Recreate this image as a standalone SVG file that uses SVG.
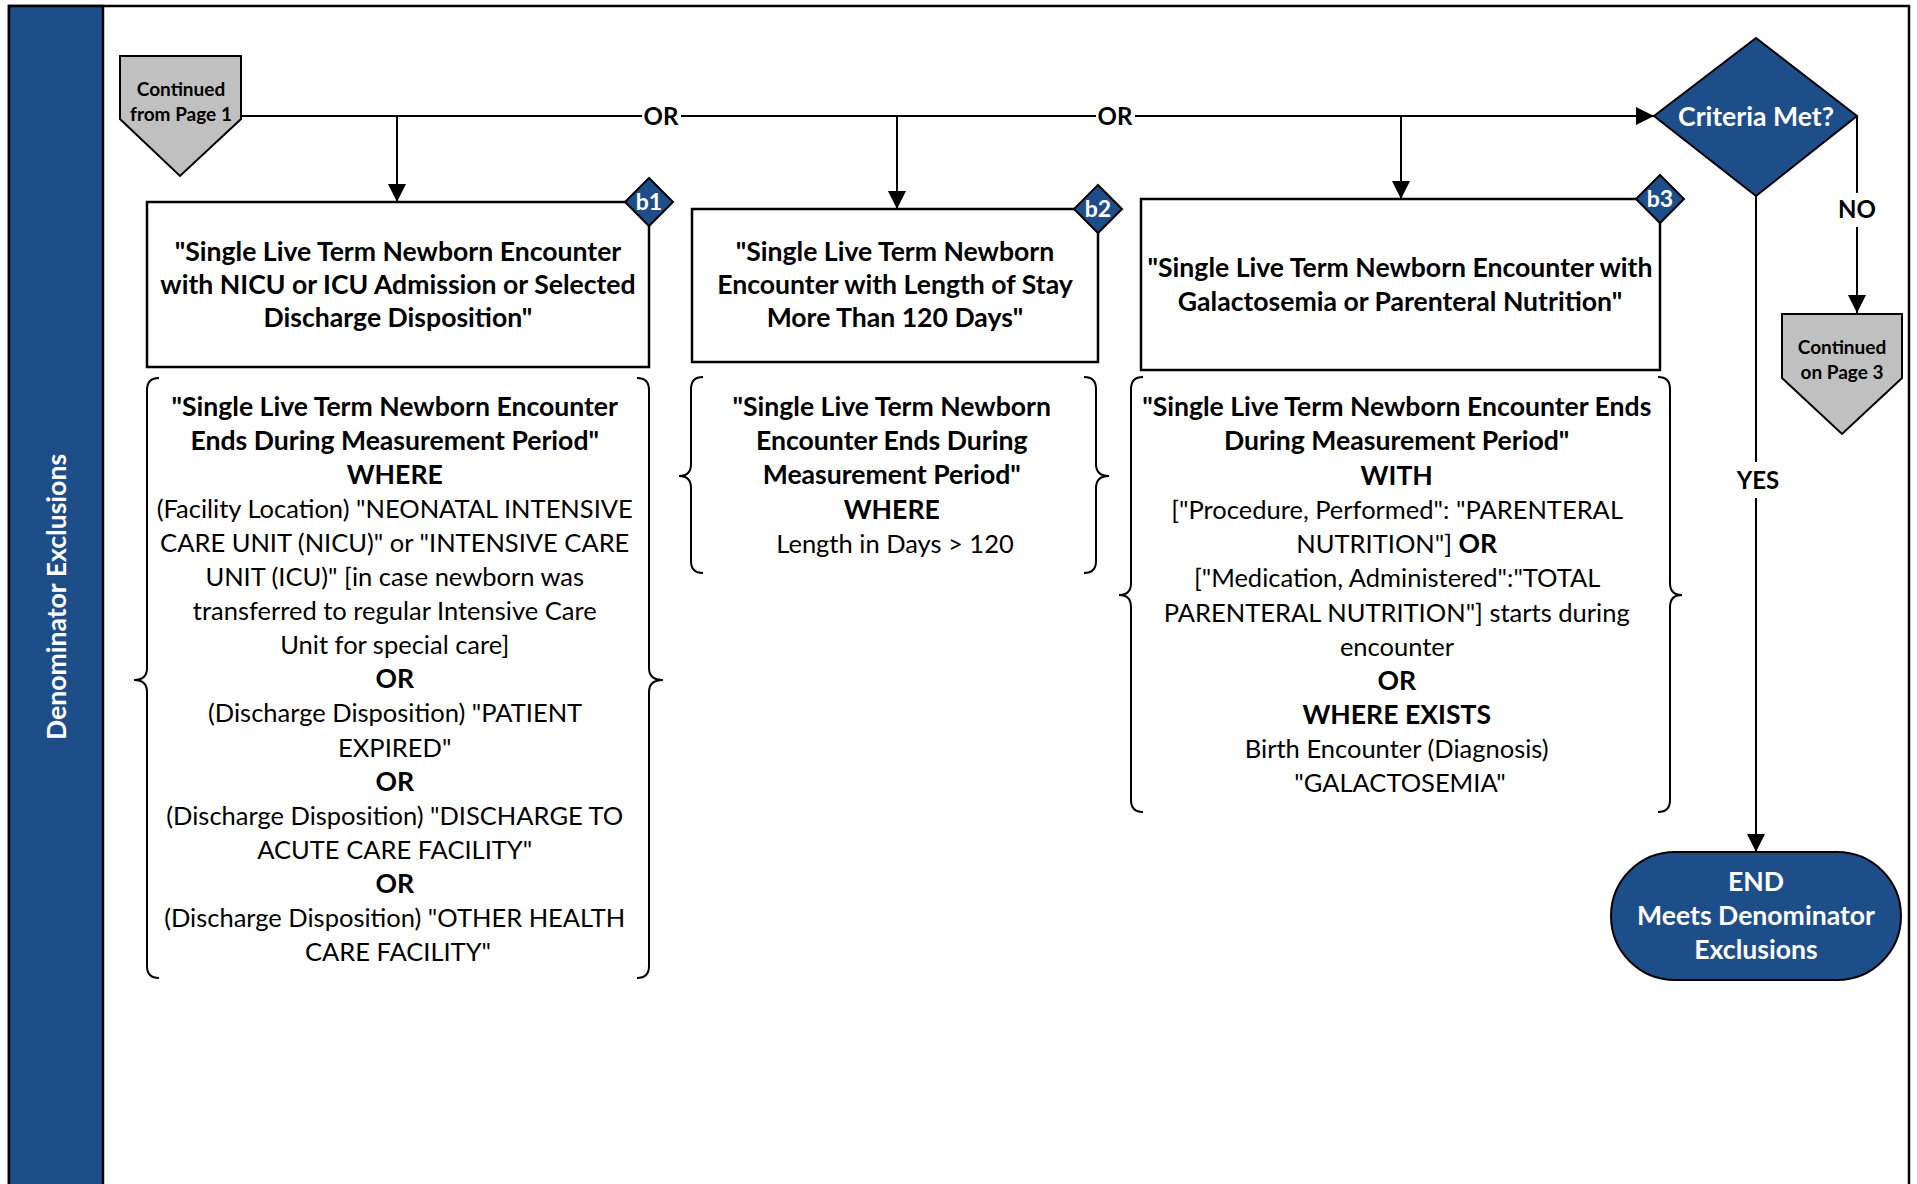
<svg xmlns="http://www.w3.org/2000/svg" width="1917" height="1184" viewBox="0 0 1917 1184">
<defs>
<marker id="arr" markerUnits="userSpaceOnUse" markerWidth="20" markerHeight="20" viewBox="0 0 20 20" refX="18" refY="10" orient="auto">
<path d="M0,1 L18,10 L0,19 Z" fill="#000"/>
</marker>
<style>
text{font-family:Lato,"Liberation Sans",sans-serif;fill:#000}
.t{font-size:25.5px;text-anchor:middle}
.b{font-weight:bold;font-size:26.6px}
.w{fill:#fff}
.box{fill:#fff;stroke:#000;stroke-width:2.5}
.brace{fill:none;stroke:#000;stroke-width:2}
.con{fill:none;stroke:#000;stroke-width:2}
.navy{fill:#1E4E8A;stroke:#000;stroke-width:2}
.gray{fill:#C0C0C0;stroke:#000;stroke-width:2}
.lbl{font-size:24px;font-weight:bold;text-anchor:middle}
.badge{font-size:23px;font-weight:bold;text-anchor:middle;fill:#fff}
.cont{font-size:19px;font-weight:bold;text-anchor:middle}
.nav{font-size:26.6px;font-weight:bold;text-anchor:middle;fill:#fff}
</style>
</defs>
<rect width="1917" height="1184" fill="#fff"/>
<g id="frame">
<rect x="9" y="6" width="1900" height="1200" fill="none" stroke="#000" stroke-width="2.5"/>
<rect x="9" y="6" width="94" height="1200" fill="#1E4E8A" stroke="#000" stroke-width="2.5"/>
<text class="nav" font-size="28.8" transform="translate(66,597) rotate(-90)">Denominator Exclusions</text>
</g>
<g id="connectors">
<path class="con" d="M241,116 H642"/>
<path class="con" d="M681,116 H1096"/>
<path class="con" d="M1135,116 H1654" marker-end="url(#arr)"/>
<path class="con" d="M397,116 V202" marker-end="url(#arr)"/>
<path class="con" d="M897,116 V209" marker-end="url(#arr)"/>
<path class="con" d="M1401,116 V199" marker-end="url(#arr)"/>
<path class="con" d="M1857,116 V193"/>
<path class="con" d="M1857,227 V313" marker-end="url(#arr)"/>
<path class="con" d="M1756,196 V462"/>
<path class="con" d="M1756,498 V852" marker-end="url(#arr)"/>
<text class="lbl" x="661" y="125">OR</text>
<text class="lbl" x="1115" y="125">OR</text>
<text class="lbl" x="1857" y="218">NO</text>
<text class="lbl" x="1758" y="489">YES</text>
</g>
<g id="start">
<path class="gray" d="M120,56 H241 V119 L180,176 L120,119 Z"/>
<text class="cont" x="181" y="96">Continued</text>
<text class="cont" x="181" y="121">from Page 1</text>
</g>
<g id="b1">
<rect class="box" x="147" y="202" width="502" height="165"/>
<text class="t b"><tspan x="398" y="261">"Single Live Term Newborn Encounter</tspan><tspan x="398" y="294">with NICU or ICU Admission or Selected</tspan><tspan x="398" y="327">Discharge Disposition"</tspan></text>
<path class="navy" d="M649,178 L673,202 L649,226 L625,202 Z"/>
<text class="badge" x="649" y="210">b1</text>
</g>
<g id="b1-detail">
<path class="brace" d="M159,378 Q147,378 147,390 V668 Q147,680 134,680 Q147,680 147,692 V966 Q147,978 159,978"/>
<path class="brace" d="M637,378 Q649,378 649,390 V668 Q649,680 663,680 Q649,680 649,692 V966 Q649,978 637,978"/>
<text class="t">
<tspan class="b" x="398" y="416">"Single Live Term Newborn Encounter</tspan>
<tspan class="b" x="398" y="450">Ends During Measurement Period"</tspan>
<tspan class="b" x="398" y="484">WHERE</tspan>
<tspan x="398" y="518">(Facility Location) "NEONATAL INTENSIVE</tspan>
<tspan x="398" y="552">CARE UNIT (NICU)" or "INTENSIVE CARE</tspan>
<tspan x="398" y="586">UNIT (ICU)" [in case newborn was</tspan>
<tspan x="398" y="620">transferred to regular Intensive Care</tspan>
<tspan x="398" y="654">Unit for special care]</tspan>
<tspan class="b" x="398" y="688">OR</tspan>
<tspan x="398" y="722">(Discharge Disposition) "PATIENT</tspan>
<tspan x="398" y="757">EXPIRED"</tspan>
<tspan class="b" x="398" y="791">OR</tspan>
<tspan x="398" y="825">(Discharge Disposition) "DISCHARGE TO</tspan>
<tspan x="398" y="859">ACUTE CARE FACILITY"</tspan>
<tspan class="b" x="398" y="893">OR</tspan>
<tspan x="398" y="927">(Discharge Disposition) "OTHER HEALTH</tspan>
<tspan x="398" y="961">CARE FACILITY"</tspan>
</text>
</g>
<g id="b2">
<rect class="box" x="692" y="209" width="406" height="153"/>
<text class="t b"><tspan x="895" y="261">"Single Live Term Newborn</tspan><tspan x="895" y="294">Encounter with Length of Stay</tspan><tspan x="895" y="327">More Than 120 Days"</tspan></text>
<path class="navy" d="M1098,185 L1122,209 L1098,233 L1074,209 Z"/>
<text class="badge" x="1098" y="217">b2</text>
</g>
<g id="b2-detail">
<path class="brace" d="M703,377 Q691,377 691,389 V464 Q691,476 679,476 Q691,476 691,488 V561 Q691,573 703,573"/>
<path class="brace" d="M1084,377 Q1096,377 1096,389 V464 Q1096,476 1109,476 Q1096,476 1096,488 V561 Q1096,573 1084,573"/>
<text class="t">
<tspan class="b" x="895" y="416">"Single Live Term Newborn</tspan>
<tspan class="b" x="895" y="450">Encounter Ends During</tspan>
<tspan class="b" x="895" y="484">Measurement Period"</tspan>
<tspan class="b" x="895" y="519">WHERE</tspan>
<tspan x="895" y="553">Length in Days &gt; 120</tspan>
</text>
</g>
<g id="b3">
<rect class="box" x="1141" y="199" width="519" height="171"/>
<text class="t b"><tspan x="1400" y="277">"Single Live Term Newborn Encounter with</tspan><tspan x="1400" y="311">Galactosemia or Parenteral Nutrition"</tspan></text>
<path class="navy" d="M1660,175 L1684,199 L1660,223 L1636,199 Z"/>
<text class="badge" x="1660" y="207">b3</text>
</g>
<g id="b3-detail">
<path class="brace" d="M1143,377 Q1131,377 1131,389 V583 Q1131,595 1119,595 Q1131,595 1131,607 V800 Q1131,812 1143,812"/>
<path class="brace" d="M1658,377 Q1670,377 1670,389 V583 Q1670,595 1682,595 Q1670,595 1670,607 V800 Q1670,812 1658,812"/>
<text class="t">
<tspan class="b" x="1400" y="416">"Single Live Term Newborn Encounter Ends</tspan>
<tspan class="b" x="1400" y="450">During Measurement Period"</tspan>
<tspan class="b" x="1400" y="485">WITH</tspan>
<tspan x="1400" y="519">["Procedure, Performed": "PARENTERAL</tspan>
<tspan x="1400" y="553">NUTRITION"] <tspan class="b">OR</tspan></tspan>
<tspan x="1400" y="587">["Medication, Administered":"TOTAL</tspan>
<tspan x="1400" y="622">PARENTERAL NUTRITION"] starts during</tspan>
<tspan x="1400" y="656">encounter</tspan>
<tspan class="b" x="1400" y="690">OR</tspan>
<tspan class="b" x="1400" y="724">WHERE EXISTS</tspan>
<tspan x="1400" y="758">Birth Encounter (Diagnosis)</tspan>
<tspan x="1400" y="792">"GALACTOSEMIA"</tspan>
</text>
</g>
<g id="decision">
<path class="navy" d="M1756,38 L1857,116 L1756,196 L1654,116 Z"/>
<text class="nav" x="1756" y="126">Criteria Met?</text>
</g>
<g id="next">
<path class="gray" d="M1782,314 H1902 V378 L1842,434 L1782,378 Z"/>
<text class="cont" x="1842" y="354">Continued</text>
<text class="cont" x="1842" y="379">on Page 3</text>
</g>
<g id="end">
<rect class="navy" x="1611" y="852" width="290" height="128" rx="64" ry="64"/>
<text class="nav"><tspan x="1756" y="891">END</tspan><tspan x="1756" y="925">Meets Denominator</tspan><tspan x="1756" y="959">Exclusions</tspan></text>
</g>
</svg>
